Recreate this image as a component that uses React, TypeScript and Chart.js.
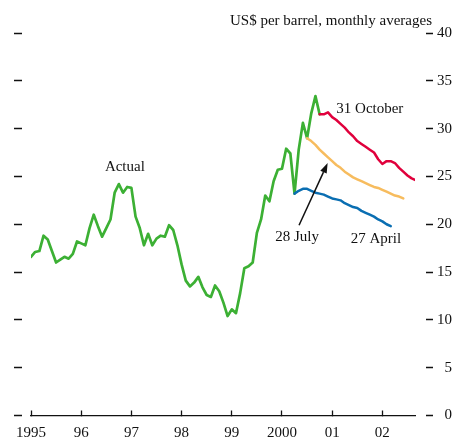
import { useEffect, useRef } from 'react';
import { Chart, registerables } from 'chart.js';

Chart.register(...registerables);

// ---- data ----
const startYear = 1995;

// Monthly averages, Jan 1995 .. Oct 2000
const actual = [
  16.6, 17.1, 17.2, 18.8, 18.4, 17.2, 16.0, 16.3, 16.6, 16.4, 16.9, 18.2,
  18.0, 17.8, 19.6, 21.0, 19.8, 18.7, 19.6, 20.5, 23.3, 24.2, 23.3, 23.9,
  23.8, 20.8, 19.6, 17.8, 19.0, 17.8, 18.5, 18.8, 18.7, 19.9, 19.4, 17.8,
  15.8, 14.1, 13.5, 13.9, 14.5, 13.4, 12.6, 12.4, 13.6, 13.0, 11.8, 10.4,
  11.1, 10.7, 12.8, 15.4, 15.6, 16.0, 19.1, 20.5, 23.0, 22.4, 24.5, 25.7,
  25.8, 27.9, 27.4, 23.2, 27.8, 30.6, 29.0, 31.6, 33.4, 31.5,
];

// Futures curves (month index from Jan 1995 where each curve starts)
const aprilStart = 63;
const april = [
  23.2, 23.5, 23.7, 23.7, 23.5, 23.3, 23.2, 23.1, 22.9, 22.7, 22.6, 22.5,
  22.2, 22.0, 21.8, 21.7, 21.4, 21.2, 21.0, 20.8, 20.5, 20.3, 20.0, 19.8,
];
const julyStart = 66;
const july = [
  29.0, 28.7, 28.3, 27.8, 27.4, 27.0, 26.6, 26.2, 25.9, 25.5, 25.2, 24.9,
  24.7, 24.5, 24.3, 24.1, 23.9, 23.8, 23.6, 23.4, 23.2, 23.0, 22.9, 22.7,
];
const octoberStart = 69;
const october = [
  31.5, 31.5, 31.7, 31.2, 30.9, 30.5, 30.1, 29.6, 29.2, 28.7, 28.4, 28.1,
  27.8, 27.5, 26.8, 26.3, 26.6, 26.6, 26.4, 25.9, 25.5, 25.1, 24.8, 24.6,
];

const yearTicks = [1995, 1996, 1997, 1998, 1999, 2000, 2001, 2002];
const yearLabels = ['1995', '96', '97', '98', '99', '2000', '01', '02'];
const valueTicks = [0, 5, 10, 15, 20, 25, 30, 35, 40];

const unitsTitle = 'US$ per barrel, monthly averages';

// annotation texts (in data coordinates)
const notes = [
  { text: 'Actual', x: 1996.87, y: 26.0 },
  { text: '31 October', x: 2001.75, y: 32.0 },
  { text: '28 July', x: 2000.3, y: 18.7 },
  { text: '27 April', x: 2001.87, y: 18.4 },
];
const arrowFrom = { x: 2000.34, y: 19.9 };
const arrowTo = { x: 2000.91, y: 26.4 };

const FONT = '"Liberation Serif", "Times New Roman", serif';

function toPoints(values: number[], start: number) {
  return values.map((v, i) => ({ x: startYear + (start + i) / 12, y: v }));
}

const notesPlugin = {
  id: 'notes',
  afterDatasetsDraw(chart: any) {
    const { ctx, chartArea } = chart;
    const xs = chart.scales.x;
    const ys = chart.scales.y;
    ctx.save();
    ctx.font = `15px ${FONT}`;
    ctx.fillStyle = '#111';
    ctx.textAlign = 'center';
    ctx.textBaseline = 'middle';
    notes.forEach((n) => {
      ctx.fillText(n.text, xs.getPixelForValue(n.x), ys.getPixelForValue(n.y));
    });
    ctx.textAlign = 'right';
    ctx.fillText(unitsTitle, chartArea.right + 17, chartArea.top - 12);

    // arrow
    const x0 = xs.getPixelForValue(arrowFrom.x);
    const y0 = ys.getPixelForValue(arrowFrom.y);
    const x1 = xs.getPixelForValue(arrowTo.x);
    const y1 = ys.getPixelForValue(arrowTo.y);
    const ang = Math.atan2(y1 - y0, x1 - x0);
    const headLen = 10;
    const headW = 3.5;
    const bx = x1 - headLen * Math.cos(ang);
    const by = y1 - headLen * Math.sin(ang);
    ctx.strokeStyle = '#111';
    ctx.lineWidth = 1.5;
    ctx.beginPath();
    ctx.moveTo(x0, y0);
    ctx.lineTo(bx, by);
    ctx.stroke();
    ctx.beginPath();
    ctx.moveTo(x1, y1);
    ctx.lineTo(bx + headW * Math.sin(ang), by - headW * Math.cos(ang));
    ctx.lineTo(bx - headW * Math.sin(ang), by + headW * Math.cos(ang));
    ctx.closePath();
    ctx.fill();
    ctx.restore();
  },
};

export default function App() {
  const ref = useRef<HTMLCanvasElement | null>(null);

  useEffect(() => {
    if (!ref.current) return;
    const lineBase = {
      pointRadius: 0,
      tension: 0,
      borderJoinStyle: 'round' as const,
      borderCapStyle: 'round' as const,
      xAxisID: 'x',
      yAxisID: 'y',
      parsing: false as const,
    };
    const chart = new Chart(ref.current, {
      type: 'line',
      data: {
        datasets: [
          { ...lineBase, label: 'Actual', data: toPoints(actual, 0), borderColor: '#3cb034', borderWidth: 2.7, order: 2 },
          { ...lineBase, label: '27 April', data: toPoints(april, aprilStart), borderColor: '#0a6eb2', borderWidth: 2.5, order: 1 },
          { ...lineBase, label: '28 July', data: toPoints(july, julyStart), borderColor: '#f7bc5e', borderWidth: 2.5, order: 1 },
          { ...lineBase, label: '31 October', data: toPoints(october, octoberStart), borderColor: '#e0003c', borderWidth: 2.5, order: 1 },
        ],
      },
      options: {
        animation: false,
        responsive: false,
        maintainAspectRatio: false,
        layout: { padding: { left: 14, right: 5, top: 33, bottom: -19.5 } },
        plugins: {
          legend: { display: false },
          tooltip: { enabled: false },
          title: { display: false },
        },
        scales: {
          x: {
            type: 'linear',
            position: 'bottom',
            min: 1995,
            max: 2002.65,
            afterBuildTicks: (scale: any) => {
              scale.ticks = yearTicks.map((v) => ({ value: v }));
            },
            afterFit: (scale: any) => {
              scale.paddingLeft = 0;
              scale.paddingRight = 0;
            },
            ticks: {
              autoSkip: false,
              maxRotation: 0,
              padding: 18.5,
              color: '#111',
              font: { family: FONT, size: 15, lineHeight: 0.6 },
              callback: (v: any) => {
                const i = yearTicks.indexOf(Number(v));
                return i >= 0 ? yearLabels[i] : '';
              },
            },
            grid: {
              drawOnChartArea: false,
              drawTicks: true,
              tickLength: -5,
              tickColor: '#111',
              tickWidth: 1.3,
            },
            border: { display: true, color: '#111', width: 1.3 },
          },
          y: {
            type: 'linear',
            position: 'right',
            min: 0,
            max: 40,
            afterBuildTicks: (scale: any) => {
              scale.ticks = valueTicks.map((v) => ({ value: v }));
            },
            afterFit: (scale: any) => {
              scale.width = 37;
            },
            ticks: {
              padding: 4,
              crossAlign: 'far',
              color: '#111',
              font: { family: FONT, size: 15 },
            },
            grid: {
              drawOnChartArea: false,
              drawTicks: true,
              tickLength: 18,
              tickColor: '#111',
              tickWidth: 1.5,
              tickBorderDash: [0, 11, 7, 100],
            },
            border: { display: false },
          },
          yl: {
            type: 'linear',
            position: 'left',
            min: 0,
            max: 40,
            afterBuildTicks: (scale: any) => {
              scale.ticks = valueTicks.map((v) => ({ value: v }));
            },
            afterFit: (scale: any) => {
              scale.width = 17;
            },
            ticks: { display: false },
            grid: {
              drawOnChartArea: false,
              drawTicks: true,
              tickLength: 17,
              tickColor: '#111',
              tickWidth: 1.5,
              tickBorderDash: [8, 100],
            },
            border: { display: false },
          },
        },
      },
      plugins: [notesPlugin],
    } as any);
    return () => chart.destroy();
  }, []);

  return (
    <div style={{ position: 'absolute', left: 0, top: 0, width: 457, height: 437, background: '#fff' }}>
      <canvas ref={ref} width={457} height={437} style={{ display: 'block', width: 457, height: 437 }} />
    </div>
  );
}
